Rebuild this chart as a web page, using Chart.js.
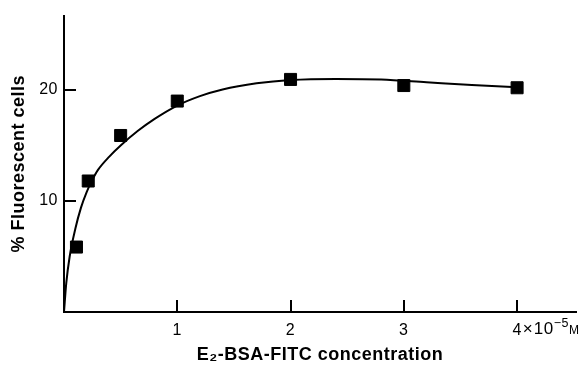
<!DOCTYPE html>
<html>
<head>
<meta charset="utf-8">
<script src="https://cdn.jsdelivr.net/npm/chart.js@4/dist/chart.umd.min.js"></script>
<style>
  html, body { margin: 0; padding: 0; background: #fff; }
  #wrap { width: 588px; height: 369px; }
</style>
</head>
<body>
<div id="wrap"><canvas id="fluoChart" width="588" height="369"></canvas></div>
<script>
// measured squares
const concX = [0.11, 0.214, 0.5, 1, 2, 3, 4];
const fluoY = [5.85, 11.8, 15.9, 19.0, 20.95, 20.4, 20.2];

// hand-drawn fitted curve
const curveX = [0, 0.02, 0.05, 0.1, 0.15, 0.2, 0.25, 0.3, 0.4, 0.5, 0.65, 0.8, 1.0, 1.2, 1.4, 1.7, 2.0, 2.4, 2.8, 3.2, 3.6, 4.0];
const curveY = [0, 2.6, 5.0, 7.5, 9.4, 10.8, 11.9, 12.8, 14.0, 15.0, 16.3, 17.4, 18.6, 19.45, 20.05, 20.6, 20.9, 21.0, 20.95, 20.7, 20.45, 20.25];

const xTicks = [1, 2, 3, 4];
const yTicks = [10, 20];

const FONT = "'Liberation Sans', Arial, sans-serif";

// slightly wider tracking, like the original typesetting
const tracking = {
    id: 'tracking',
    beforeLayout(chart) { chart.ctx.letterSpacing = '0.5px'; },
    beforeDraw(chart) { chart.ctx.letterSpacing = '0.5px'; }
};

// inward tick marks + the "x10^-5 M" unit after the last tick
const axisDecor = {
    id: 'axisDecor',
    afterDraw(chart) {
        const ctx = chart.ctx;
        const xs = chart.scales.x, ys = chart.scales.y;
        const area = chart.chartArea;
        ctx.save();
        ctx.strokeStyle = '#000';
        ctx.lineWidth = 2;
        xTicks.forEach(v => {
            const px = Math.round(xs.getPixelForValue(v));
            ctx.beginPath(); ctx.moveTo(px, area.bottom); ctx.lineTo(px, area.bottom - 12); ctx.stroke();
        });
        yTicks.forEach(v => {
            const py = Math.round(ys.getPixelForValue(v));
            ctx.beginPath(); ctx.moveTo(area.left, py); ctx.lineTo(area.left + 12, py); ctx.stroke();
        });

        // unit suffix
        ctx.fillStyle = '#000';
        ctx.textBaseline = 'alphabetic';
        ctx.textAlign = 'left';
        ctx.font = '16px ' + FONT;
        const last = xTicks[xTicks.length - 1];
        let x = xs.getPixelForValue(last) + ctx.measureText(String(last)).width / 2 + 1;
        const base = 334;
        ctx.font = '17px ' + FONT;
        ctx.fillText('\u00d7', x, base);
        x += ctx.measureText('\u00d7').width + 0.5;
        ctx.fillText('10', x, base);
        x += ctx.measureText('10').width;
        ctx.font = '12.5px ' + FONT;
        ctx.fillText('\u22125', x, base - 7);
        x += ctx.measureText('\u22125').width;
        ctx.font = '12px ' + FONT;
        ctx.fillText('M', x, base);
        ctx.restore();
    }
};

new Chart(document.getElementById('fluoChart'), {
    type: 'scatter',
    data: {
        datasets: [
            {
                type: 'line',
                data: curveX.map((v, i) => ({ x: v, y: curveY[i] })),
                borderColor: '#000',
                borderWidth: 2,
                pointRadius: 0,
                fill: false,
                cubicInterpolationMode: 'monotone'
            },
            {
                data: concX.map((v, i) => ({ x: v, y: fluoY[i] })),
                pointStyle: 'rect',
                pointRadius: 8.5,
                pointBackgroundColor: '#000',
                pointBorderColor: '#000',
                pointBorderWidth: 1,
                showLine: false
            }
        ]
    },
    options: {
        responsive: false,
        devicePixelRatio: 1,
        animation: false,
        layout: { padding: { top: 13, right: 12, left: 0, bottom: 0 } },
        plugins: { legend: { display: false }, tooltip: { enabled: false } },
        scales: {
            x: {
                type: 'linear',
                min: 0,
                max: 4.52,
                afterBuildTicks: s => { s.ticks = xTicks.map(v => ({ value: v })); },
                afterFit: s => { s.height = 57; },
                grid: { display: false, drawTicks: false },
                border: { display: true, color: '#000', width: 2 },
                ticks: { color: '#000', padding: 9, font: { family: FONT, size: 16 }, maxRotation: 0 },
                title: {
                    display: true,
                    text: 'E\u2082-BSA-FITC concentration',
                    color: '#000',
                    font: { family: FONT, size: 18, weight: 'bold' },
                    padding: { top: 0, bottom: 3 }
                }
            },
            y: {
                type: 'linear',
                min: 0,
                max: 26.7,
                afterBuildTicks: s => { s.ticks = yTicks.map(v => ({ value: v })); },
                afterFit: s => { s.width = 64; },
                grid: { display: false, drawTicks: false },
                border: { display: true, color: '#000', width: 2 },
                ticks: { color: '#000', padding: 6, font: { family: FONT, size: 16 } },
                title: {
                    display: true,
                    text: '% Fluorescent cells',
                    color: '#000',
                    font: { family: FONT, size: 18, weight: 'bold' },
                    padding: { top: 8, bottom: 0 }
                }
            }
        }
    },
    plugins: [tracking, axisDecor]
});
</script>
</body>
</html>
